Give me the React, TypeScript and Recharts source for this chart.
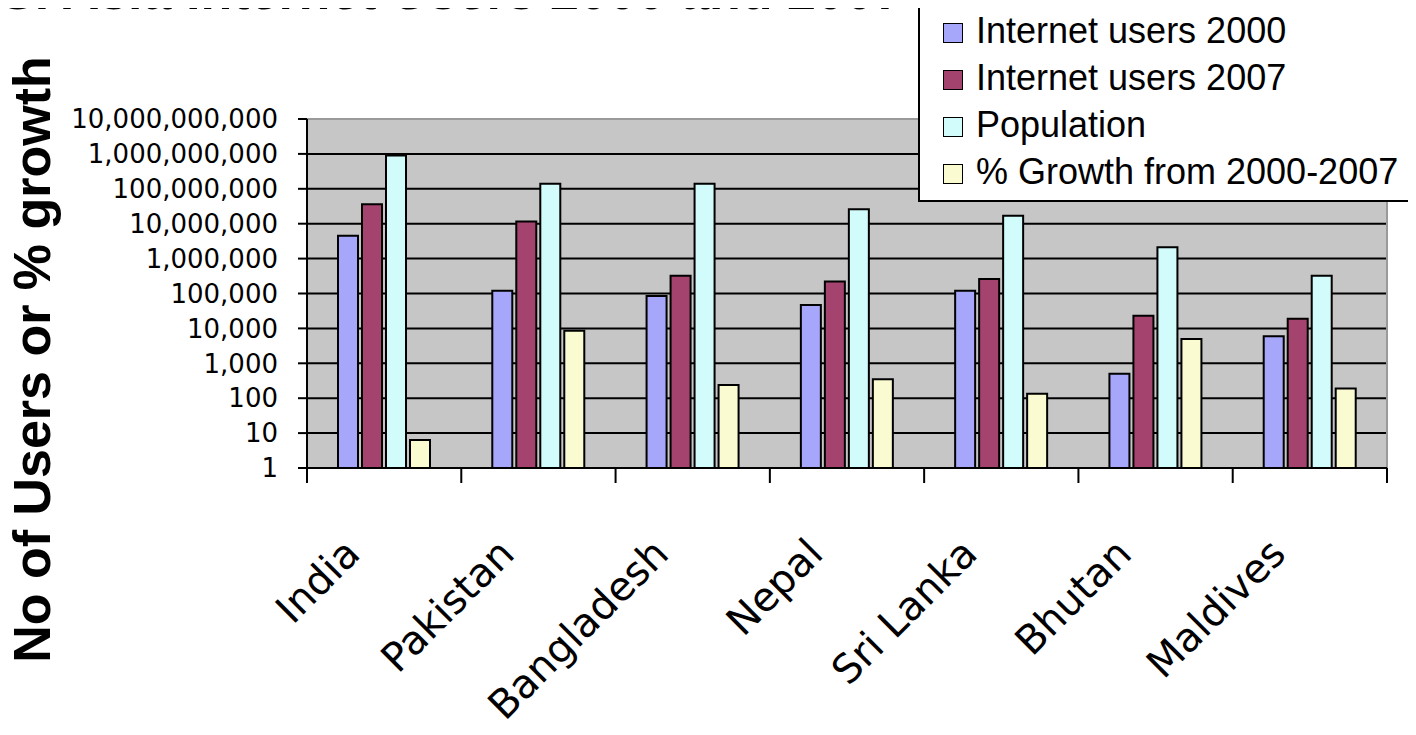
import React from 'react';
import {
  Bar,
  BarChart,
  CartesianGrid,
  Label,
  Legend,
  XAxis,
  YAxis
} from 'recharts';

const countries = ['India', 'Pakistan', 'Bangladesh', 'Nepal', 'Sri Lanka', 'Bhutan', 'Maldives'];
const users2000 = [4500000, 120000, 85000, 47000, 120000, 500, 6000];
const users2007 = [36000000, 11500000, 320000, 220000, 260000, 23000, 19000];
const population = [900000000, 140000000, 140000000, 26000000, 17000000, 2100000, 320000];
const growthPct = [6.3, 8500, 240, 350, 135, 5000, 190];
const yTicks = [1, 10, 100, 1000, 10000, 100000, 1000000, 10000000, 100000000, 1000000000, 10000000000];

const series = [
  { key: 'users2000', name: 'Internet users 2000', color: '#a6a6fb' },
  { key: 'users2007', name: 'Internet users 2007', color: '#a5436f' },
  { key: 'population', name: 'Population', color: '#d2fbfb' },
  { key: 'growth', name: '% Growth from 2000-2007', color: '#fbfbd2' }
];

const data = countries.map((name, i) => ({
  name,
  users2000: users2000[i],
  users2007: users2007[i],
  population: population[i],
  growth: growthPct[i]
}));

const ARIAL = '"Liberation Sans", Arial, sans-serif';
const SANS = '"DejaVu Sans", Verdana, sans-serif';

// category label plus the boundary marks between categories
const CountryTick = (props: any) => {
  const { x, y, payload, index, visibleTicksCount } = props;
  const half = payload.offset || 77;
  const lx = x - 22;
  const ly = y + 88;
  return (
    <g>
      <line x1={x - half} x2={x - half} y1={y} y2={y + 15} stroke="#000" strokeWidth={2} />
      {index === visibleTicksCount - 1 && (
        <line x1={x + half} x2={x + half} y1={y} y2={y + 15} stroke="#000" strokeWidth={2} />
      )}
      <text
        x={lx}
        y={ly}
        transform={`rotate(-45 ${lx} ${ly})`}
        textAnchor="end"
        fontFamily={SANS}
        fontSize={40}
        fill="#000"
      >
        {payload.value}
      </text>
    </g>
  );
};

const YTitle = (props: any) => {
  const vb = props.viewBox || { x: 0, y: 119, width: 307, height: 349 };
  const tx = vb.x + 50;
  const ty = vb.y + vb.height / 2 + 66;
  return (
    <text
      x={tx}
      y={ty}
      transform={`rotate(-90 ${tx} ${ty})`}
      textAnchor="middle"
      fontFamily={ARIAL}
      fontWeight="bold"
      fontSize={52}
      fill="#000"
    >
      No of Users or % growth
    </text>
  );
};

const LegendBox = () => (
  <div
    style={{
      background: '#fff',
      border: '2px solid #000',
      boxSizing: 'border-box',
      width: 520,
      height: 197,
      paddingLeft: 23,
      fontFamily: ARIAL,
      fontSize: 36,
      lineHeight: '47px',
      color: '#000',
      textAlign: 'left'
    }}
  >
    {series.map(s => (
      <div key={s.key} style={{ whiteSpace: 'nowrap' }}>
        <span
          style={{
            display: 'inline-block',
            width: 18,
            height: 18,
            border: '1.5px solid #000',
            background: s.color,
            marginRight: 13
          }}
        />
        {s.name}
      </div>
    ))}
  </div>
);

export default function App() {
  return (
    <div
      style={{
        position: 'relative',
        width: 1416,
        height: 735,
        overflow: 'hidden',
        margin: -8,
        background: '#fff'
      }}
    >
      <div
        style={{
          position: 'absolute',
          left: 0,
          top: -35,
          fontFamily: ARIAL,
          fontWeight: 'bold',
          fontSize: 52,
          lineHeight: '52px',
          whiteSpace: 'nowrap'
        }}
      >
        S. Asia Internet Users 2000 and 2007
      </div>
      <BarChart
        width={1416}
        height={735}
        data={data}
        margin={{ top: 119, right: 29, bottom: 0, left: 0 }}
        barSize={20}
        barGap={4}
      >
        <CartesianGrid vertical={false} fill="#c6c6c6" stroke="#000" strokeWidth={2} />
        <CartesianGrid
          fill="none"
          stroke="#9a9a9a"
          strokeWidth={2}
          horizontalCoordinatesGenerator={({ offset }: any) => [offset.top]}
          verticalCoordinatesGenerator={({ offset }: any) => [offset.left + offset.width]}
        />
        <XAxis
          dataKey="name"
          height={267}
          interval={0}
          tickSize={0}
          tickMargin={0}
          tickLine={false}
          axisLine={{ stroke: '#000', strokeWidth: 2 }}
          tick={<CountryTick />}
        />
        <YAxis
          scale="log"
          domain={[1, 10000000000]}
          ticks={yTicks}
          interval={0}
          allowDataOverflow
          width={307}
          tickSize={9}
          tickMargin={20}
          axisLine={{ stroke: '#000', strokeWidth: 2 }}
          tickLine={{ stroke: '#000', strokeWidth: 2 }}
          tick={{ fontFamily: SANS, fontSize: 26, fill: '#000' }}
          tickFormatter={(v: number) => v.toLocaleString('en-US')}
        >
          <Label content={<YTitle />} />
        </YAxis>
        <Legend
          layout="horizontal"
          verticalAlign="middle"
          align="center"
          content={<LegendBox />}
          wrapperStyle={{ left: 918, top: 5, width: 520, height: 197 }}
        />
        {series.map(s => (
          <Bar
            key={s.key}
            dataKey={s.key}
            name={s.name}
            fill={s.color}
            stroke="#000"
            strokeWidth={2}
            isAnimationActive={false}
          />
        ))}
      </BarChart>
    </div>
  );
}
